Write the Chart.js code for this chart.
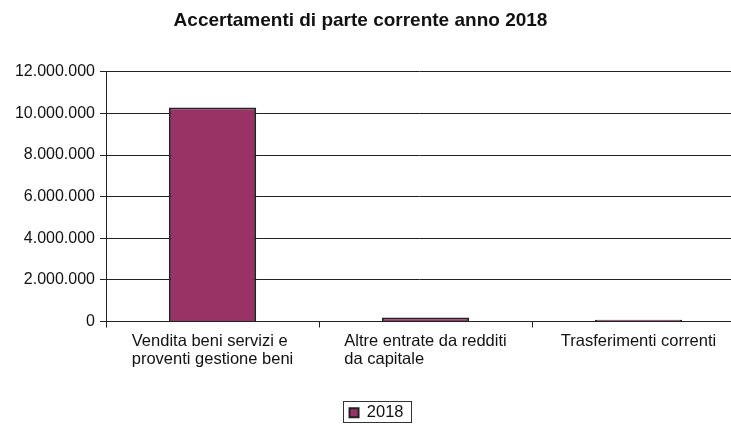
<!DOCTYPE html>
<html>
<head>
<meta charset="utf-8">
<script src="https://cdn.jsdelivr.net/npm/chart.js@4.4.1/dist/chart.umd.min.js"></script>
<style>
    html, body { margin: 0; padding: 0; background: #fff; }
</style>
</head>
<body>
<canvas id="chart" width="731" height="424"></canvas>
<script>
// dati del grafico
const categories = [
    ['Vendita beni servizi e', 'proventi gestione beni'],
    ['Altre entrate da redditi', 'da capitale'],
    ['Trasferimenti correnti']
];
const seriesName = '2018';
const values2018 = [10280000, 190000, 80000];
const yMin = 0;
const yMax = 12000000;
const yStep = 2000000;

const FONT = '"Liberation Sans", Arial, sans-serif';
const INK = '#111';
const LINE = '#222';

// formato con separatore delle migliaia "."
function formatNumber(v) {
    return String(v).replace(/\B(?=(\d{3})+(?!\d))/g, '.');
}

// l'area del grafico continua oltre il bordo destro, come nell'originale
const extendPlotPlugin = {
    id: 'extendPlot',
    afterLayout(chart) {
        const extra = 14;
        const x = chart.scales.x;
        chart.chartArea.right += extra;
        chart.chartArea.width += extra;
        x.right += extra;
        x.width += extra;
        x.configure();

        // titolo un po' a sinistra, legenda un po' a destra e in basso
        if (chart.titleBlock) {
            chart.titleBlock.left -= 5;
            chart.titleBlock.right -= 5;
        }
        const lg = chart.legend;
        if (lg) {
            const dx = 11, dy = 7;
            lg.left += dx; lg.right += dx;
            lg.top += dy; lg.bottom += dy;
            // le hitbox vengono ricalcolate dal plugin legenda (afterUpdate)
        }
    }
};

// etichette asse x allineate a sinistra (come nel foglio originale)
const xLabelPlugin = {
    id: 'xLabels',
    afterDraw(chart) {
        const { ctx } = chart;
        const x = chart.scales.x;
        ctx.save();
        ctx.font = `16.5px ${FONT}`;
        ctx.fillStyle = INK;
        ctx.textAlign = 'left';
        ctx.textBaseline = 'middle';
        categories.forEach((lines, i) => {
            const cx = x.getPixelForValue(i);
            const w = Math.max(...lines.map(l => ctx.measureText(l).width));
            lines.forEach((l, j) => {
                ctx.fillText(l, cx - w / 2, x.top + 20 + j * 18);
            });
        });
        ctx.restore();
    }
};

// cornice attorno alla legenda
const legendBoxPlugin = {
    id: 'legendBox',
    afterDraw(chart) {
        const boxes = chart.legend && chart.legend.legendHitBoxes;
        if (!boxes || !boxes.length) return;
        const b = boxes[0];
        const { ctx } = chart;
        ctx.save();
        ctx.strokeStyle = '#333';
        ctx.lineWidth = 1;
        ctx.strokeRect(Math.round(b.left - 7) + 0.5, Math.round(b.top - 4) + 0.5,
            Math.round(b.width + 14), 21);
        ctx.restore();
    }
};

Chart.defaults.font.family = FONT;

new Chart(document.getElementById('chart'), {
    type: 'bar',
    data: {
        labels: categories,
        datasets: [{
            label: seriesName,
            data: values2018,
            backgroundColor: '#993366',
            borderColor: LINE,
            borderWidth: 2,
            barPercentage: 0.41,
            categoryPercentage: 1
        }]
    },
    options: {
        responsive: false,
        animation: false,
        devicePixelRatio: 1,
        layout: {
            padding: { left: 0, right: 0, top: 0, bottom: 0 }
        },
        plugins: {
            title: {
                display: true,
                text: 'Accertamenti di parte corrente anno 2018',
                color: INK,
                font: { size: 19, weight: 'bold' },
                padding: { top: 9, bottom: 40 }
            },
            legend: {
                position: 'bottom',
                labels: {
                    color: INK,
                    font: { size: 16.5 },
                    boxWidth: 9,
                    boxHeight: 9,
                    padding: 0
                }
            },
            tooltip: { enabled: false }
        },
        scales: {
            x: {
                offset: true,
                grid: {
                    offset: true,
                    drawOnChartArea: false,
                    drawTicks: true,
                    tickLength: 6,
                    color: LINE
                },
                border: { color: LINE },
                ticks: {
                    color: 'transparent',
                    font: { size: 16 },
                    maxRotation: 0,
                    autoSkip: false
                },
                afterFit(scale) { scale.height = 76; }
            },
            y: {
                min: yMin,
                max: yMax,
                ticks: {
                    stepSize: yStep,
                    color: INK,
                    font: { size: 16 },
                    padding: 5,
                    callback: v => formatNumber(v)
                },
                grid: { color: LINE, tickLength: 6 },
                border: { color: LINE },
                afterFit(scale) { scale.width = 106; }
            }
        }
    },
    plugins: [extendPlotPlugin, xLabelPlugin, legendBoxPlugin]
});
</script>
</body>
</html>
